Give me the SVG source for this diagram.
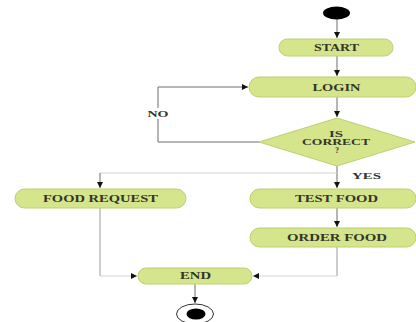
<svg xmlns="http://www.w3.org/2000/svg" width="416" height="322" viewBox="0 0 416 322">
<style>
.node{fill:#d5e58c;stroke:#bccf72;stroke-width:1}
.t{font-family:"Liberation Serif","Times New Roman",serif;font-weight:bold;font-size:9.5px;fill:#34342a;text-anchor:middle}
.s{font-size:8.5px}
.d{font-size:7.5px}
.c{fill:none;stroke:#6e6e6e;stroke-width:1}
.l{fill:none;stroke:#d4d4d4;stroke-width:1}
.m{fill:none;stroke:#9a9a9a;stroke-width:1}
</style>
<defs>
<marker id="a" markerUnits="userSpaceOnUse" markerWidth="8" markerHeight="8" refX="6" refY="3" orient="auto">
<path d="M0,0 L6,3 L0,6 Z" fill="#111"/>
</marker>
</defs>
<rect width="416" height="322" fill="#fff"/>
<g id="connectors">
<path class="c" d="M337,19 V38" marker-end="url(#a)"/>
<path class="c" d="M337,56 V76" marker-end="url(#a)"/>
<path class="c" d="M337,97 V117" marker-end="url(#a)"/>
<path class="c" d="M259,142 H158 V87 H248" marker-end="url(#a)"/>
<path class="c" d="M337,166 V188" marker-end="url(#a)"/>
<path class="l" d="M337,173 H100"/>
<path class="c" d="M100,173 V188" marker-end="url(#a)"/>
<path class="c" d="M337,208 V227" marker-end="url(#a)"/>
<path class="m" d="M100,208 V276"/>
<path class="l" d="M100,276 H137" marker-end="url(#a)"/>
<path class="m" d="M337,247 V276"/>
<path class="l" d="M337,276 H253" marker-end="url(#a)"/>
<path class="c" d="M195,284 V303" marker-end="url(#a)"/>
<rect x="147" y="108" width="23" height="11" fill="#fff"/>
<text class="t s" x="158" y="117" textLength="21" lengthAdjust="spacingAndGlyphs">NO</text>
<text class="t s" x="366.5" y="179" textLength="29" lengthAdjust="spacingAndGlyphs">YES</text>
</g>
<g id="initial">
<ellipse cx="336.5" cy="13" rx="13.5" ry="6.5" fill="#000"/>
</g>
<g id="start">
<rect class="node" x="279" y="39" width="114" height="17" rx="8.5"/>
<text class="t" x="336.5" y="51" textLength="45" lengthAdjust="spacingAndGlyphs">START</text>
</g>
<g id="login">
<rect class="node" x="249" y="77" width="167" height="20" rx="10"/>
<text class="t" x="336.5" y="90.5" textLength="48" lengthAdjust="spacingAndGlyphs">LOGIN</text>
</g>
<g id="is-correct">
<polygon class="node" points="337,118 415,142 337,166 259,142"/>
<text class="t d" x="336" y="136.5" textLength="14" lengthAdjust="spacingAndGlyphs">IS</text>
<text class="t d" x="336" y="144.5" textLength="68" lengthAdjust="spacingAndGlyphs">CORRECT</text>
<text class="t d" x="337" y="152.5">?</text>
</g>
<g id="food-request">
<rect class="node" x="15" y="189" width="171" height="19" rx="9.5"/>
<text class="t" x="100.5" y="202" textLength="115" lengthAdjust="spacingAndGlyphs">FOOD REQUEST</text>
</g>
<g id="test-food">
<rect class="node" x="250" y="189" width="166" height="19" rx="9.5"/>
<text class="t" x="336.5" y="202" textLength="83" lengthAdjust="spacingAndGlyphs">TEST FOOD</text>
</g>
<g id="order-food">
<rect class="node" x="250" y="228" width="166" height="19" rx="9.5"/>
<text class="t" x="337" y="241" textLength="100" lengthAdjust="spacingAndGlyphs">ORDER FOOD</text>
</g>
<g id="end">
<rect class="node" x="138" y="268" width="114" height="16" rx="8"/>
<text class="t" x="195.5" y="279" textLength="31" lengthAdjust="spacingAndGlyphs">END</text>
</g>
<g id="final">
<ellipse cx="195" cy="314" rx="18.5" ry="10" fill="#fff" stroke="#333" stroke-width="1"/>
<ellipse cx="196" cy="314" rx="9.5" ry="5.5" fill="#000"/>
</g>
</svg>
